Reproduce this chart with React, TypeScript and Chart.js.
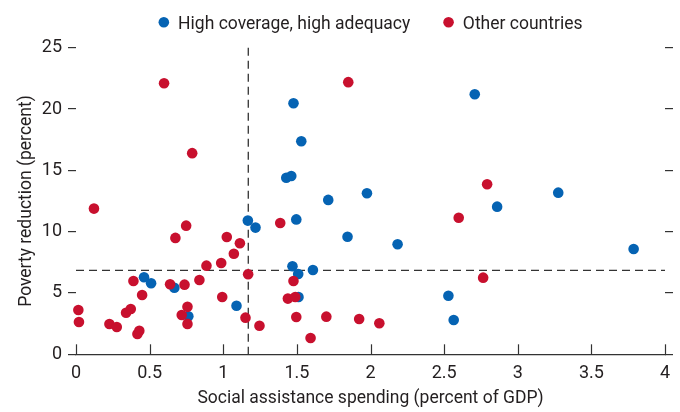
import React, { useEffect, useRef } from "react";
import { Chart, registerables } from "chart.js";

Chart.register(...registerables);

const FONT = "Roboto, 'Liberation Sans', Arial, sans-serif";
const TEXT = "#231f20";
const AXIS = "#333333";

const seriesNames = ["High coverage, high adequacy", "Other countries"];
const seriesColors = ["#0563b3", "#c8102e"];

// High coverage, high adequacy
const highX = [0.462, 0.51, 0.668, 0.763, 1.09, 1.167, 1.219, 1.428, 1.462, 1.477, 1.53, 1.496, 1.47, 1.509, 1.609, 1.511, 1.713, 1.844, 1.976, 2.184, 2.529, 2.565, 2.708, 2.86, 3.275, 3.787];
const highY = [6.28, 5.79, 5.43, 3.1, 3.96, 10.9, 10.33, 14.4, 14.54, 20.47, 17.37, 11.0, 7.18, 6.55, 6.87, 4.67, 12.59, 9.59, 13.13, 8.97, 4.78, 2.8, 21.2, 12.04, 13.18, 8.59];

// Other countries
const otherX = [0.016, 0.02, 0.122, 0.227, 0.277, 0.34, 0.372, 0.39, 0.417, 0.43, 0.449, 0.598, 0.639, 0.675, 0.718, 0.737, 0.748, 0.757, 0.757, 0.789, 0.838, 0.886, 0.986, 0.993, 1.024, 1.072, 1.113, 1.151, 1.169, 1.246, 1.387, 1.439, 1.477, 1.489, 1.496, 1.593, 1.70, 1.849, 1.923, 2.06, 2.599, 2.765, 2.792];
const otherY = [3.61, 2.63, 11.88, 2.47, 2.23, 3.39, 3.69, 5.98, 1.66, 1.92, 4.84, 22.1, 5.71, 9.49, 3.2, 5.68, 10.49, 3.87, 2.48, 16.4, 6.06, 7.23, 7.45, 4.67, 9.57, 8.2, 9.05, 2.99, 6.53, 2.33, 10.71, 4.54, 5.98, 4.67, 3.04, 1.33, 3.07, 22.19, 2.88, 2.53, 11.14, 6.25, 13.87];

const xTicks = [0, 0.5, 1, 1.5, 2, 2.5, 3, 3.5, 4];
const yTicks = [0, 5, 10, 15, 20, 25];
const spendingThreshold = 1.17;
const reductionThreshold = 6.85;
const xTitle = "Social assistance spending (percent of GDP)";
const yTitle = "Poverty reduction (percent)";

const decor = {
  id: "decor",
  beforeDatasetsDraw(chart: any) {
    const { ctx, scales } = chart;
    const x = scales.x;
    const y = scales.y;
    ctx.save();
    ctx.strokeStyle = AXIS;
    ctx.lineWidth = 1.3;
    ctx.setLineDash([8, 5]);
    const vx = x.getPixelForValue(spendingThreshold);
    ctx.beginPath();
    ctx.moveTo(vx, y.getPixelForValue(yTicks[yTicks.length - 1]));
    ctx.lineTo(vx, y.getPixelForValue(0));
    ctx.stroke();
    const hy = y.getPixelForValue(reductionThreshold);
    ctx.beginPath();
    ctx.moveTo(x.getPixelForValue(xTicks[0]), hy);
    ctx.lineTo(x.getPixelForValue(xTicks[xTicks.length - 1]), hy);
    ctx.stroke();
    ctx.restore();
  },
  afterDraw(chart: any) {
    const { ctx, scales, chartArea } = chart;
    const x = scales.x;
    ctx.save();
    ctx.strokeStyle = AXIS;
    ctx.lineWidth = 1.2;
    ctx.setLineDash([]);
    xTicks.forEach((v) => {
      const px = Math.round(x.getPixelForValue(v)) + 0.5;
      ctx.beginPath();
      ctx.moveTo(px, chartArea.bottom);
      ctx.lineTo(px, chartArea.bottom - 10);
      ctx.stroke();
    });

    // legend
    ctx.font = `17.5px ${FONT}`;
    ctx.textBaseline = "alphabetic";
    ctx.textAlign = "left";
    const r = 5.3;
    const gap = 9;
    const itemGap = 33;
    const ds = chart.data.datasets;
    const widths = ds.map((d: any) => 2 * r + gap + ctx.measureText(d.label).width);
    const total = widths.reduce((a: number, b: number) => a + b, 0) + itemGap * (ds.length - 1);
    let left = (chartArea.left + chartArea.right) / 2 - total / 2;
    ds.forEach((d: any, i: number) => {
      ctx.fillStyle = d.backgroundColor;
      ctx.beginPath();
      ctx.arc(left + r, 22.3, r, 0, Math.PI * 2);
      ctx.fill();
      ctx.fillStyle = TEXT;
      ctx.fillText(d.label, left + 2 * r + gap, 29.3);
      left += widths[i] + itemGap;
    });
    ctx.restore();
  },
};

export default function App() {
  const ref = useRef<HTMLCanvasElement | null>(null);

  useEffect(() => {
    document.body.style.margin = "0";
    const canvas = ref.current;
    if (!canvas) return;
    Chart.defaults.font.family = FONT;
    Chart.defaults.color = TEXT;

    const chart = new Chart(canvas, {
      type: "scatter",
      data: {
        datasets: [
          {
            label: seriesNames[0],
            data: highX.map((v, i) => ({ x: v, y: highY[i] })),
            backgroundColor: seriesColors[0],
            borderWidth: 0,
            pointRadius: 5.3,
            pointHoverRadius: 5.3,
            order: 1,
            clip: false,
          },
          {
            label: seriesNames[1],
            data: otherX.map((v, i) => ({ x: v, y: otherY[i] })),
            backgroundColor: seriesColors[1],
            borderWidth: 0,
            pointRadius: 5.3,
            pointHoverRadius: 5.3,
            order: 0,
            clip: false,
          },
        ],
      },
      options: {
        animation: false,
        responsive: false,
        devicePixelRatio: 1,
        layout: { padding: { top: 47.7, left: 0, right: 0, bottom: 0 } },
        plugins: {
          legend: { display: false },
          tooltip: { enabled: false },
        },
        scales: {
          x: {
            type: "linear",
            position: "bottom",
            min: xTicks[0],
            max: xTicks[xTicks.length - 1],
            afterBuildTicks: (s: any) => {
              s.ticks = xTicks.map((v) => ({ value: v }));
            },
            afterFit: (s: any) => {
              s.height = 57.7;
            },
            grid: { display: false, drawTicks: false },
            border: { display: true, color: AXIS, width: 1.3 },
            ticks: {
              font: { size: 18 },
              color: TEXT,
              padding: 8,
              maxRotation: 0,
              autoSkip: false,
              callback: (v: any) => String(v),
            },
            title: {
              display: true,
              text: xTitle,
              font: { size: 17.5 },
              color: TEXT,
              padding: { top: 0, bottom: 2.5 },
            },
          },
          y: {
            type: "linear",
            position: "left",
            min: yTicks[0],
            max: yTicks[yTicks.length - 1],
            afterBuildTicks: (s: any) => {
              s.ticks = yTicks.map((v) => ({ value: v }));
            },
            afterFit: (s: any) => {
              s.width = 76;
            },
            grid: {
              drawOnChartArea: false,
              drawTicks: true,
              tickLength: 8,
              color: AXIS,
              tickColor: AXIS,
              lineWidth: 1.2,
            },
            border: { display: false },
            ticks: {
              font: { size: 18 },
              color: TEXT,
              padding: 6,
              autoSkip: false,
              callback: (v: any) => String(v),
            },
            title: {
              display: true,
              text: yTitle,
              font: { size: 17.5 },
              color: TEXT,
              padding: { top: 16, bottom: 0 },
            },
          },
          y2: {
            type: "linear",
            position: "right",
            min: yTicks[0],
            max: yTicks[yTicks.length - 1],
            afterBuildTicks: (s: any) => {
              s.ticks = yTicks.map((v) => ({ value: v }));
            },
            afterFit: (s: any) => {
              s.width = 15;
            },
            grid: {
              drawOnChartArea: false,
              drawTicks: true,
              tickLength: 8,
              color: AXIS,
              tickColor: AXIS,
              lineWidth: 1.2,
            },
            border: { display: false },
            ticks: { display: false },
          },
        },
      } as any,
      plugins: [decor],
    });

    return () => chart.destroy();
  }, []);

  return (
    <div style={{ width: 680, height: 412 }}>
      <canvas ref={ref} width={680} height={412} style={{ display: "block", width: 680, height: 412 }} />
    </div>
  );
}
